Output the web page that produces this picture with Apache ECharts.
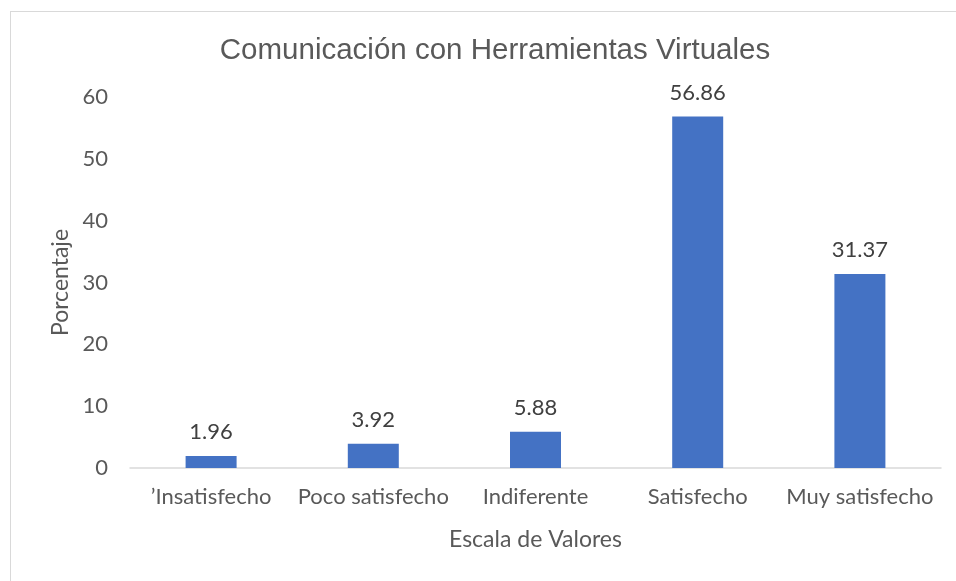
<!DOCTYPE html>
<html>
<head>
<meta charset="utf-8">
<script src="https://cdn.jsdelivr.net/npm/echarts@6/dist/echarts.min.js"></script>
<style>
  html, body { margin: 0; padding: 0; background: #fff; }
  #chart { width: 956px; height: 581px; }
  .frame { position: absolute; left: 10px; top: 11px; right: -2px; bottom: -2px; border: 1px solid #d9d9d9; pointer-events: none; }
</style>
</head>
<body>
<div id="chart"></div>
<div class="frame"></div>
<script>
// datos
const categorias = ['\u2019Insatisfecho', 'Poco satisfecho', 'Indiferente', 'Satisfecho', 'Muy satisfecho'];
const porcentajes = [1.96, 3.92, 5.88, 56.86, 31.37];
const ticksY = [0, 10, 20, 30, 40, 50, 60];

const chart = echarts.init(document.getElementById('chart'));
chart.setOption({
  animation: false,
  title: {
    text: 'Comunicación con Herramientas Virtuales',
    left: 490,
    top: 31,
    textAlign: 'center',
    textStyle: { fontFamily: 'Liberation Sans', fontSize: 29.5, fontWeight: 'normal', color: '#595959' }
  },
  grid: { left: 130, right: 15, top: 97, bottom: 113 },
  xAxis: {
    type: 'category',
    data: categorias,
    name: 'Escala de Valores',
    nameLocation: 'middle',
    nameGap: 60,
    nameTextStyle: { fontFamily: 'Lato', fontSize: 23, color: '#595959' },
    axisLine: { lineStyle: { color: '#d9d9d9', width: 1.5 } },
    axisTick: { show: false },
    axisLabel: { fontFamily: 'Lato', fontSize: 22, color: '#595959', margin: 18, interval: 0 }
  },
  yAxis: {
    type: 'value',
    min: ticksY[0],
    max: ticksY[ticksY.length - 1],
    interval: 10,
    name: 'Porcentaje',
    nameLocation: 'middle',
    nameGap: 58,
    nameTextStyle: { fontFamily: 'Lato', fontSize: 23, color: '#595959' },
    axisLine: { show: false },
    axisTick: { show: false },
    splitLine: { show: false },
    axisLabel: { fontFamily: 'Lato', fontSize: 22, color: '#595959', margin: 22 }
  },
  series: [{
    type: 'bar',
    data: porcentajes,
    barWidth: 51,
    itemStyle: { color: '#4472C4' },
    label: {
      show: true,
      position: 'top',
      distance: 13,
      fontFamily: 'Lato',
      fontSize: 22,
      color: '#404040',
      formatter: p => p.value.toFixed(2)
    }
  }]
});
</script>
</body>
</html>
